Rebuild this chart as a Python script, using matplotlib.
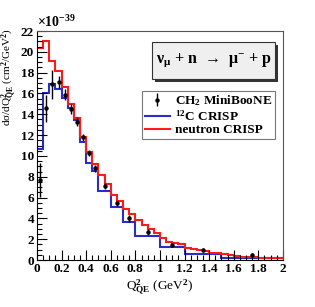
import numpy as np
import matplotlib
matplotlib.use('Agg')
import matplotlib.pyplot as plt
from matplotlib.patches import Rectangle
from matplotlib.ticker import MultipleLocator

plt.rcParams['font.family'] = ['Liberation Serif', 'DejaVu Serif']
plt.rcParams['font.weight'] = 'bold'
plt.rcParams['mathtext.fontset'] = 'custom'
plt.rcParams['mathtext.rm'] = 'Liberation Serif:bold'
plt.rcParams['mathtext.it'] = 'Liberation Serif:bold'
plt.rcParams['mathtext.bf'] = 'Liberation Serif:bold'

# MiniBooNE CH2 data (x 1e-39 cm2/GeV2)
data_x = [0.025, 0.075, 0.125, 0.175, 0.225, 0.275, 0.325, 0.375, 0.425, 0.475,
          0.55, 0.65, 0.75, 0.9, 1.1, 1.35, 1.75]
data_y = [7.7, 14.6, 16.9, 17.1, 15.9, 14.5, 13.3, 11.8, 10.3, 8.8,
          7.1, 5.5, 4.0, 2.7, 1.45, 0.96, 0.52]
data_err = [1.6, 1.3, 1.4, 0.6, 0.5, 0.45, 0.4, 0.35, 0.3, 0.3,
            0.3, 0.3, 0.3, 0.25, 0.2, 0.15, 0.15]

# 12C CRISP, MiniBooNE binning
c12_edges = [0.0, 0.05, 0.1, 0.15, 0.2, 0.25, 0.3, 0.35, 0.4, 0.45, 0.5,
             0.6, 0.7, 0.8, 1.0, 1.2, 1.5, 2.0]
c12_vals = [10.7, 16.0, 16.9, 16.4, 15.6, 14.65, 13.45, 11.3, 9.3, 8.6,
            6.6, 5.1, 3.7, 2.35, 1.25, 0.57, 0.22]

# neutron CRISP, 0.05 GeV2 bins
n_edges = np.linspace(0.0, 2.0, 41)
n_vals = [20.4, 21.0, 19.1, 18.2, 16.6, 15.0, 13.6, 11.8, 10.4, 9.2,
          8.2, 7.3, 6.2, 5.7, 4.9, 4.4, 3.8, 3.4, 3.0, 2.6,
          2.1, 1.7, 1.6, 1.5, 1.15, 1.05, 0.95, 0.85, 0.7, 0.65,
          0.6, 0.45, 0.4, 0.3, 0.28, 0.25, 0.22, 0.2, 0.18, 0.15]

fig = plt.figure(figsize=(3.15, 3.07), dpi=100)
ax = fig.add_axes([0.1175, 0.153, 0.7805, 0.746])

ax.stairs(c12_vals, c12_edges, baseline=None, color='#2b2bc8', lw=1.5,
          label=r'$^{12}$C CRISP')
ax.stairs(n_vals, n_edges, baseline=None, color='#ff1a1a', lw=1.5,
          label='neutron CRISP')
ax.errorbar(data_x, data_y, yerr=data_err, fmt='o', ms=2.2, color='black',
            ecolor='black', elinewidth=1.0, capsize=0, label=r'CH$_{2}$ MiniBooNE')

ax.set_xlim(0, 2)
ax.set_ylim(0, 22)
ax.xaxis.set_major_locator(MultipleLocator(0.2))
ax.xaxis.set_minor_locator(MultipleLocator(0.05))
ax.yaxis.set_major_locator(MultipleLocator(2))
ax.yaxis.set_minor_locator(MultipleLocator(0.5))
ax.set_xticks(np.arange(0, 2.01, 0.2))
ax.set_xticklabels(['0', '0.2', '0.4', '0.6', '0.8', '1', '1.2', '1.4', '1.6', '1.8', '2'])
ax.tick_params(which='both', direction='in', top=False, right=False,
               labelsize=9.5, pad=2)
ax.tick_params(which='major', length=7, width=0.8)
ax.tick_params(which='minor', length=3.5, width=0.8)
for lab in ax.get_xticklabels() + ax.get_yticklabels():
    lab.set_fontweight('bold')
for s in ['top', 'right']:
    ax.spines[s].set_color('#555555')
    ax.spines[s].set_linewidth(0.8)

ax.set_xlabel(r'Q$^{2}_{\rm QE}$ (GeV$^{2}$)', fontsize=9.5, labelpad=2)
ax.set_ylabel(r'dσ/dQ$^{2}_{\rm QE}$ (cm$^{2}$/GeV$^{2}$)', fontsize=8,
              loc='top')
ax.yaxis.set_label_coords(-0.072, 1.01)
ax.text(0.0, 1.005, r'$\times$10$^{-39}$', transform=ax.transAxes,
        fontsize=10, ha='left', va='bottom')

# reaction box with shadow
x0, y0, w, h = 0.4825, 0.743, 0.39, 0.12
fig.patches.append(Rectangle((x0 + 0.01, y0 - 0.01), w, h, transform=fig.transFigure,
                             facecolor='#333333', edgecolor='none', zorder=5))
fig.patches.append(Rectangle((x0, y0), w, h, transform=fig.transFigure,
                             facecolor='#efefef', edgecolor='#333333', lw=0.8, zorder=6))
fig.text(x0 + w / 2, y0 + h / 2, r'ν$_{\rm μ}$ + n  →  μ$^{-}$ + p',
         ha='center', va='center', fontsize=11.5, zorder=7)

handles, labels = ax.get_legend_handles_labels()
order = [2, 0, 1]
leg = ax.legend([handles[i] for i in order], [labels[i] for i in order],
                loc='upper left', bbox_to_anchor=(0.451, 0.544, 0.422, 0.16),
                bbox_transform=fig.transFigure, mode='expand', fancybox=False,
                framealpha=1, edgecolor='#777777', fontsize=9.5, handlelength=1.9,
                handletextpad=0.4, borderpad=0.2, labelspacing=0.05, borderaxespad=0)
leg.get_frame().set_linewidth(0.8)
for t in leg.get_texts():
    t.set_fontweight('bold')

fig.savefig('out.png', dpi=100)
